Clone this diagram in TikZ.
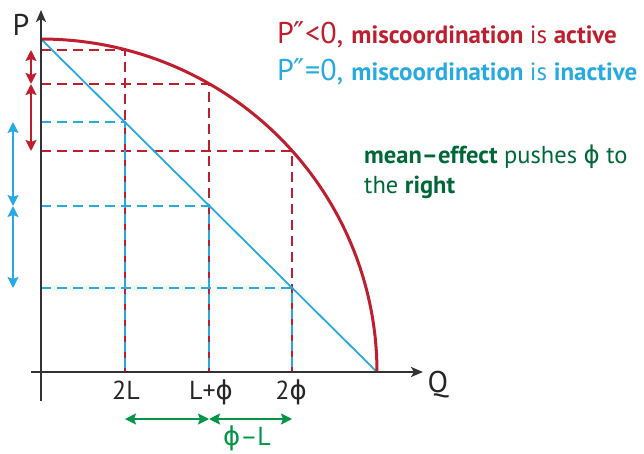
\documentclass[tikz,border=0pt]{standalone}
\usepackage{fontspec}
\setmainfont{PT Sans}
\newfontfamily\symfont{DejaVu Sans}
\usetikzlibrary{arrows.meta, positioning}
\definecolor{curvecolor}{RGB}{190,30,45}
\definecolor{linecolor}{RGB}{39,170,225}
\definecolor{efftextcolor}{RGB}{0,104,55}
\definecolor{gapcolor}{RGB}{0,150,70}
\definecolor{axiscolor}{RGB}{51,51,51}
\newcommand{\vphi}{{\symfont ϕ}}
\newcommand{\dprime}{{\symfont ″}}

\begin{document}
\begin{tikzpicture}[x=1pt,y=-1pt]
  \tikzset{
    axis/.style={draw=axiscolor, line width=2pt},
    axisarrow/.style={axis, -{Stealth[length=12pt,width=10pt,inset=3pt]}},
    frontier/.style={draw=curvecolor, line width=3pt},
    linear/.style={draw=linecolor, line width=1.8pt},
    reddash/.style={draw=curvecolor, line width=2pt, dash pattern=on 10pt off 6pt},
    bluedash/.style={draw=linecolor, line width=2pt, dash pattern=on 10pt off 6pt},
    span/.style={line width=2pt,
      {Stealth[length=11pt,width=11pt,inset=2pt]}-{Stealth[length=11pt,width=11pt,inset=2pt]}},
    ticklabel/.style={font=\fontsize{26}{26}\selectfont, text=black!85, anchor=base, inner sep=0pt},
    axislabel/.style={font=\fontsize{30}{30}\selectfont, text=black!85, inner sep=0pt}
  }
  \useasboundingbox (0,0) rectangle (644,453);

  % Named points
  \coordinate (O) at (41,372);
  \coordinate (ytop) at (41,10);
  \coordinate (ybot) at (41,401);
  \coordinate (xleft) at (31,372);
  \coordinate (xright) at (423,372);
  \coordinate (top) at (41,39);
  \coordinate (end) at (377,372);
  % points on the frontier
  \coordinate (r1) at (125,50);
  \coordinate (r2) at (209,84);
  \coordinate (r3) at (292,151);
  % points on the straight line
  \coordinate (b1) at (125,122);
  \coordinate (b2) at (209,206);
  \coordinate (b3) at (292,288);
  % columns of the side arrows
  \coordinate (redcol) at (31,0);
  \coordinate (bluecol) at (13,0);
  \coordinate (gaprow) at (0,419);

  % Dashed guides
  \foreach \p in {r1,r2,r3}
    \draw[reddash] (O |- \p) -- (\p) -- (\p |- O);
  \foreach \p in {b1,b2,b3}
    \draw[bluedash] (O |- \p) -- (\p) -- (\p |- O);

  % Line and frontier
  \draw[linear] (top) -- (end);
  \draw[frontier] plot[domain=0:90, samples=60, smooth] ({41+336*cos(\x)},{372-333*sin(\x)});

  % Axes
  \draw[axis] (O) -- (ybot);
  \draw[axisarrow] (O) -- (ytop);
  \draw[axisarrow] (xleft) -- (xright);
  \node[axislabel] (plabel) at (21,25) {P};
  \node[axislabel] (qlabel) at (438,385) {Q};

  % Side arrows
  \draw[span, curvecolor] (redcol |- r1) -- (redcol |- r2);
  \draw[span, curvecolor] (redcol |- r2) -- (redcol |- r3);
  \draw[span, linecolor] (bluecol |- b1) -- (bluecol |- b2);
  \draw[span, linecolor] (bluecol |- b2) -- (bluecol |- b3);

  % Tick labels
  \node[ticklabel] (lab2L) at (126,399) {2L};
  \node[ticklabel] (labLphi) at (211,399) {L+\vphi};
  \node[ticklabel] (lab2phi) at (291,399) {2\vphi};

  % Gap arrows
  \draw[span, gapcolor] (r1 |- gaprow) -- (r2 |- gaprow);
  \draw[span, gapcolor] (r2 |- gaprow) -- (r3 |- gaprow);
  \node[ticklabel, text=gapcolor] (labgap) at (247,445) {\vphi–L};

  % Legend
  \node[anchor=base west, inner sep=0pt, text=curvecolor] (legactive) at (277,43)
    {\fontsize{30}{30}\selectfont P\dprime<0, \fontsize{25}{25}\selectfont\bfseries miscoordination \mdseries is \bfseries active};
  \node[anchor=base west, inner sep=0pt, text=linecolor] (leginactive) at (277,80)
    {\fontsize{30}{30}\selectfont P\dprime=0, \fontsize{25}{25}\selectfont\bfseries miscoordination \mdseries is \bfseries inactive};

  % Mean effect note
  \node[anchor=base west, inner sep=0pt, align=left, text=efftextcolor,
        font=\fontsize{24.5}{30}\selectfont] (meaneffect) at (364,193)
    {\textbf{mean–effect} pushes \vphi{} to\\the \textbf{right}};
\end{tikzpicture}
\end{document}
